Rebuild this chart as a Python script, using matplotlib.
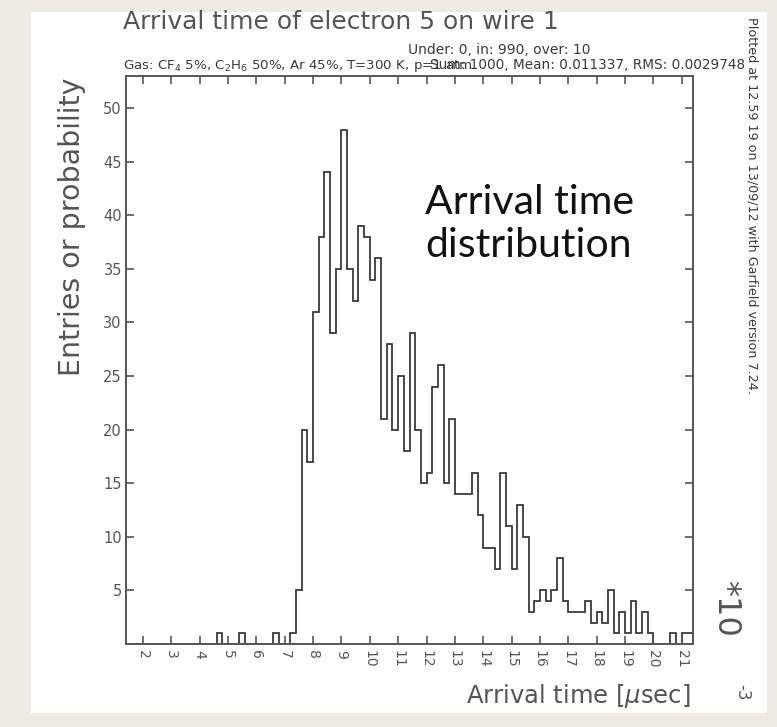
# plot.py

import numpy as np
import matplotlib
matplotlib.use("Agg")
import matplotlib.pyplot as plt
from matplotlib.patches import Rectangle

# Histogram data (units of 10^-3 usec), 100 bins
bin_lo = 1.4
bin_hi = 21.4
counts = [
    0, 0, 0, 0, 0, 0, 0, 0, 0, 0, 0, 0, 0, 0, 0, 0,
    1, 0, 0, 0, 1, 0, 0, 0, 0, 0, 1, 0, 0, 1,
    5, 20, 17, 31, 38, 44, 29, 35, 48, 35, 32, 39, 38, 34, 36,
    21, 28, 20, 25, 18, 29, 20, 15, 16, 24, 26, 15, 21,
    14, 14, 14, 16, 12, 9, 9, 7, 16, 11, 7, 13, 10,
    3, 4, 5, 4, 5, 8, 4, 3, 3, 3, 4, 2, 3, 2, 5,
    1, 3, 1, 4, 1, 3, 1, 0, 0, 0, 1, 0, 1, 1,
]
x_ticks = list(range(2, 22))
y_ticks = [5, 10, 15, 20, 25, 30, 35, 40, 45, 50]

title = "Arrival time of electron 5 on wire 1"
stats_top = "Under: 0, in: 990, over: 10"
gas_text = r"Gas: CF$_4$ 5%, C$_2$H$_6$ 50%, Ar 45%, T=300 K, p=1 atm"
stats_text = "Sum: 1000, Mean: 0.011337, RMS: 0.0029748"
stamp = "Plotted at 12.59 19 on 13/09/12 with Garfield version 7.24."
note = "Arrival time\ndistribution"

W, H = 777, 727
ink = "#3a3a3a"
grey = "#555555"


def fx(px):
    """Pixel x -> figure fraction."""
    return px / W


def fy(py):
    """Pixel y (from top) -> figure fraction."""
    return 1 - py / H


fig = plt.figure(figsize=(W / 100, H / 100), dpi=100, facecolor="#eeebe5")

# white sheet on the beige background (kept behind the axes)
fig.patches.append(Rectangle((fx(31), fy(713)), fx(767) - fx(31), fy(12) - fy(713),
                             transform=fig.transFigure, facecolor="white",
                             edgecolor="none", zorder=-10))

ax = fig.add_axes([fx(126), fy(644), fx(693) - fx(126), fy(76) - fy(644)])
ax.set_facecolor("white")

edges = np.linspace(bin_lo, bin_hi, len(counts) + 1)
ax.stairs(counts, edges, color=ink, linewidth=1.3)

ax.set_xlim(bin_lo, bin_hi)
ax.set_ylim(0, 53)

ax.set_xticks(x_ticks)
ax.set_xticklabels([str(t) for t in x_ticks], rotation=-90, fontsize=10, color=grey)
ax.set_yticks(y_ticks)
ax.set_yticklabels([str(t) for t in y_ticks], fontsize=10.5, color=grey)
ax.tick_params(direction="in", length=6, width=1.2, color=grey,
               top=True, right=True, labeltop=False, labelright=False, pad=3)
ax.tick_params(axis="x", pad=4)
for s in ax.spines.values():
    s.set_color(grey)
    s.set_linewidth(1.4)

# header texts (the gas line and the stats line overlap, as in the original)
fig.text(fx(123), fy(29), title, fontsize=18, color=grey, ha="left", va="baseline")
fig.text(fx(408), fy(54), stats_top, fontsize=10, color=ink, ha="left", va="baseline")
fig.text(fx(123), fy(69), gas_text, fontsize=9.6, color=ink, ha="left", va="baseline")
fig.text(fx(745), fy(69), stats_text, fontsize=9.8, color=ink, ha="right", va="baseline")
fig.text(fx(752), fy(17), stamp, fontsize=9.2, color=ink, rotation=-90,
         ha="center", va="top")

# axis titles
fig.text(fx(72), fy(78), "Entries or probability", fontsize=20.5, color=grey,
         rotation=90, ha="center", va="top")
fig.text(fx(691), fy(703), r"Arrival time [$\mu$sec]", fontsize=17.5, color=grey,
         ha="right", va="baseline")
fig.text(fx(726), fy(580), "*10", fontsize=23, color=grey, rotation=-90,
         ha="center", va="top")
fig.text(fx(742), fy(684), "-3", fontsize=12, color=grey, rotation=-90,
         ha="center", va="top")

# big annotation
ax.text(0.527, 0.81, note, transform=ax.transAxes, fontsize=29.5, color="#111111",
        family="Lato", ha="left", va="top", linespacing=1.2)

fig.savefig("out.png", dpi=100, facecolor=fig.get_facecolor())
